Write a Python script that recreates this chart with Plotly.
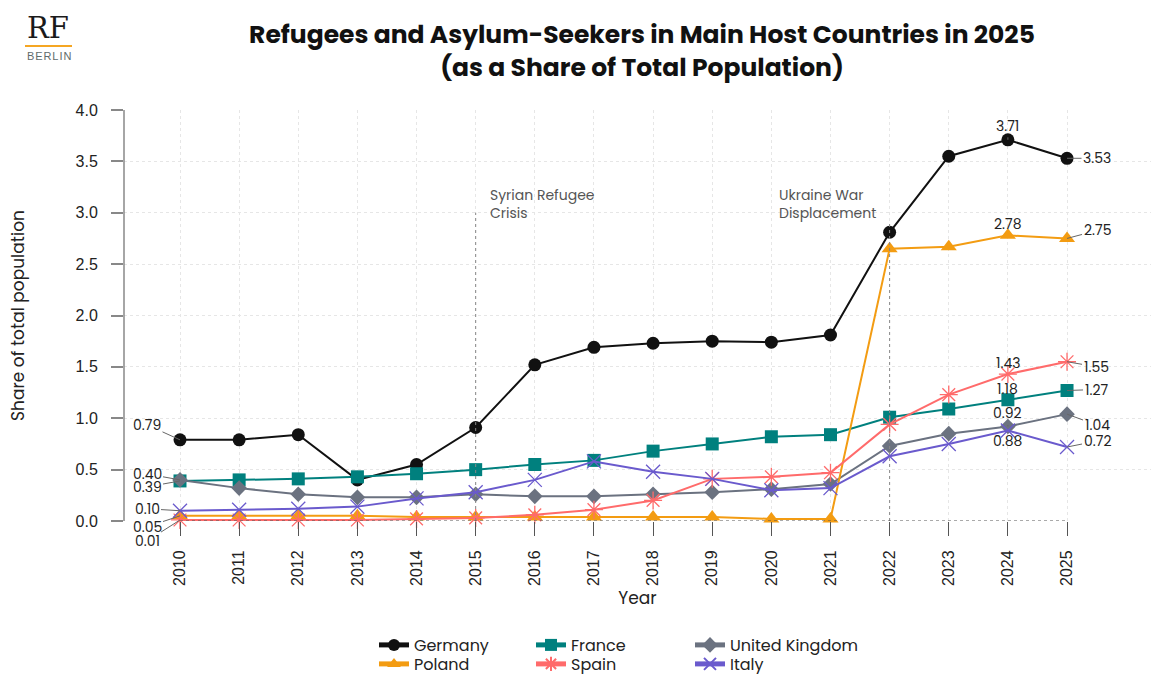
import plotly.graph_objects as go

# Share of total population (%) hosting refugees and asylum-seekers
years = list(range(2010, 2026))
germany = [0.79, 0.79, 0.84, 0.40, 0.55, 0.91, 1.52, 1.69, 1.73, 1.75, 1.74, 1.81, 2.81, 3.55, 3.71, 3.53]
france = [0.39, 0.40, 0.41, 0.43, 0.46, 0.50, 0.55, 0.59, 0.68, 0.75, 0.82, 0.84, 1.01, 1.09, 1.18, 1.27]
united_kingdom = [0.40, 0.32, 0.26, 0.23, 0.23, 0.26, 0.24, 0.24, 0.26, 0.28, 0.31, 0.36, 0.73, 0.85, 0.92, 1.04]
poland = [0.05, 0.05, 0.05, 0.05, 0.04, 0.04, 0.04, 0.04, 0.04, 0.04, 0.02, 0.02, 2.65, 2.67, 2.78, 2.75]
spain = [0.01, 0.01, 0.01, 0.01, 0.02, 0.03, 0.06, 0.11, 0.20, 0.41, 0.43, 0.47, 0.94, 1.23, 1.43, 1.55]
italy = [0.10, 0.11, 0.12, 0.14, 0.22, 0.28, 0.40, 0.58, 0.48, 0.41, 0.30, 0.32, 0.63, 0.75, 0.88, 0.72]

events = [(2015, "Syrian Refugee<br>Crisis"), (2022, "Ukraine War<br>Displacement")]

W, H = 1151, 674
L, R, T, B = 124, 0, 110, 153
PW, PH = W - L - R, H - T - B

FONT = "Poppins, Inter, sans-serif"
TICK_FONT = "Liberation Sans, Arial, sans-serif"

series = [
    # name, values, colour, symbol, size, legend group
    ("Germany", germany, "#111111", "circle", 13, "legend"),
    ("France", france, "#00807e", "square", 13, "legend"),
    ("United Kingdom", united_kingdom, "#6b7280", "diamond", 12, "legend3"),
    ("Poland", poland, "#f39c12", "triangle-up", 14, "legend2"),
    ("Spain", spain, "#ff6b6b", "asterisk-open", 15, "legend2"),
    ("Italy", italy, "#6a5acd", "x-thin-open", 14, "legend4"),
]

# value-label offsets (pixels) for the 2010, 2024 and 2025 points
label_offsets = {
    "Germany": {0: (-33, -15), 14: (0, -14), 15: (30, 0)},
    "France": {0: (-33, 6), 14: (0, -11), 15: (29, -1)},
    "United Kingdom": {0: (-33, -6), 14: (0, -13), 15: (30, 11)},
    "Poland": {0: (-33, 11), 14: (0, -11), 15: (30, -8)},
    "Spain": {0: (-33, 21), 14: (0, -11), 15: (29, 5)},
    "Italy": {0: (-33, -2), 14: (0, 10), 15: (30, -6)},
}

fig = go.Figure()

for name, vals, color, symbol, size, leg in series:
    thin = symbol.endswith("-open")
    fig.add_trace(go.Scatter(
        x=years, y=vals, name=name, mode="lines+markers",
        line=dict(color=color, width=2),
        marker=dict(symbol=symbol, size=size, color=color,
                    line=dict(color=color, width=1.3 if thin else 0)),
        cliponaxis=False, legend=leg,
    ))

annotations = []
for name, vals, color, symbol, size, leg in series:
    for idx, (ax, ay) in label_offsets[name].items():
        annotations.append(dict(
            x=years[idx], y=vals[idx], xref="x", yref="y",
            text=f"{vals[idx]:.2f}", showarrow=True, arrowhead=0,
            arrowwidth=1, arrowcolor="#666666", ax=ax, ay=ay,
            standoff=0, font=dict(family=FONT, size=14, color="#222222"),
        ))

shapes = []
for yr, label in events:
    top = 3.0 if yr == 2015 else 2.9
    shapes.append(dict(type="line", xref="x", yref="y", x0=yr, x1=yr, y0=0, y1=top,
                       line=dict(color="#888888", width=1, dash="dot")))
    left = yr == 2015
    annotations.append(dict(
        x=yr, y=3.09, xref="x", yref="y", text=label, showarrow=False,
        xanchor="left" if left else "right", xshift=12 if left else -12,
        yanchor="middle", align="left",
        font=dict(family=FONT, size=14, color="#555555"),
    ))

# x-axis baseline spanning the data years only
shapes.append(dict(type="line", xref="x", yref="y", x0=years[0], x1=years[-1], y0=0, y1=0,
                   line=dict(color="#555555", width=1, dash="dot")))
# y-axis line spanning 0..4
shapes.append(dict(type="line", xref="paper", yref="y", x0=0, x1=0, y0=0, y1=4,
                   line=dict(color="#888888", width=1.5)))


def px_x(px):
    return (px - L) / PW


def px_y(py):
    return (H - B - py) / PH


# logo
annotations.append(dict(x=px_x(48), y=px_y(28), xref="paper", yref="paper", text="RF",
                        showarrow=False, xanchor="center", yanchor="middle",
                        font=dict(family="DejaVu Serif, Liberation Serif, serif", size=29, color="#1a1a1a")))
shapes.append(dict(type="line", xref="paper", yref="paper", x0=px_x(25), x1=px_x(72),
                   y0=px_y(46), y1=px_y(46), line=dict(color="#f5a623", width=2)))
annotations.append(dict(x=px_x(48.5), y=px_y(56), xref="paper", yref="paper",
                        text="B\u200aE\u200aR\u200aL\u200aI\u200aN",
                        showarrow=False, xanchor="center", yanchor="middle",
                        font=dict(family="Liberation Sans, Arial, sans-serif", size=11, color="#5f6b6b")))

legend_style = dict(orientation="h", xanchor="left", yanchor="middle",
                    entrywidth=112, entrywidthmode="pixels", bgcolor="rgba(0,0,0,0)",
                    font=dict(family=FONT, size=16, color="#222222"),
                    itemwidth=30, itemsizing="constant", tracegroupgap=0)
wide_style = dict(legend_style, entrywidth=0)

fig.update_layout(
    width=W, height=H, margin=dict(l=L, r=R, t=T, b=B, autoexpand=False),
    paper_bgcolor="white", plot_bgcolor="white",
    font=dict(family=FONT, color="#222222"),
    title=dict(
        text="<b>Refugees and Asylum-Seekers in Main Host Countries in 2025</b><br>"
             "<b>(as a Share of Total Population)</b>",
        x=px_x(642), xref="paper", xanchor="center", y=1 - 43 / H, yref="container", yanchor="middle",
        font=dict(family=FONT, size=25, color="#111111"),
    ),
    xaxis=dict(
        range=[2009.053, 2026.42], tickmode="array", tickvals=years,
        ticktext=[str(y) for y in years], tickangle=-90,
        ticks="outside", ticklen=14, tickcolor="#555555", tickwidth=1,
        tickfont=dict(family=TICK_FONT, size=16, color="#222222"),
        ticklabelstandoff=8, automargin=False,
        showgrid=True, gridcolor="#e6e6e6", griddash="dot", gridwidth=1,
        zeroline=False, showline=False,
        title=dict(text="Year", font=dict(family=FONT, size=17, color="#222222"), standoff=0),
    ),
    yaxis=dict(
        range=[0, 4.0], tickmode="array", tickvals=[0, 0.5, 1, 1.5, 2, 2.5, 3, 3.5, 4],
        ticktext=["0.0", "0.5", "1.0", "1.5", "2.0", "2.5", "3.0", "3.5", "4.0"],
        ticks="outside", ticklen=12, tickcolor="#888888", tickwidth=1.5,
        tickfont=dict(family=TICK_FONT, size=16, color="#222222"),
        ticklabelstandoff=10, automargin=False,
        showgrid=True, gridcolor="#e6e6e6", griddash="dot", gridwidth=1,
        zeroline=False, showline=False,
        title=dict(text="Share of total population", font=dict(family=FONT, size=17, color="#222222"),
                   standoff=46),
    ),
    legend=dict(legend_style, x=px_x(374), y=px_y(645)),
    legend2=dict(legend_style, x=px_x(374), y=px_y(664)),
    legend3=dict(wide_style, x=px_x(690), y=px_y(645)),
    legend4=dict(wide_style, x=px_x(690), y=px_y(664)),
    shapes=shapes, annotations=annotations,
)

fig.write_html("out.html")
